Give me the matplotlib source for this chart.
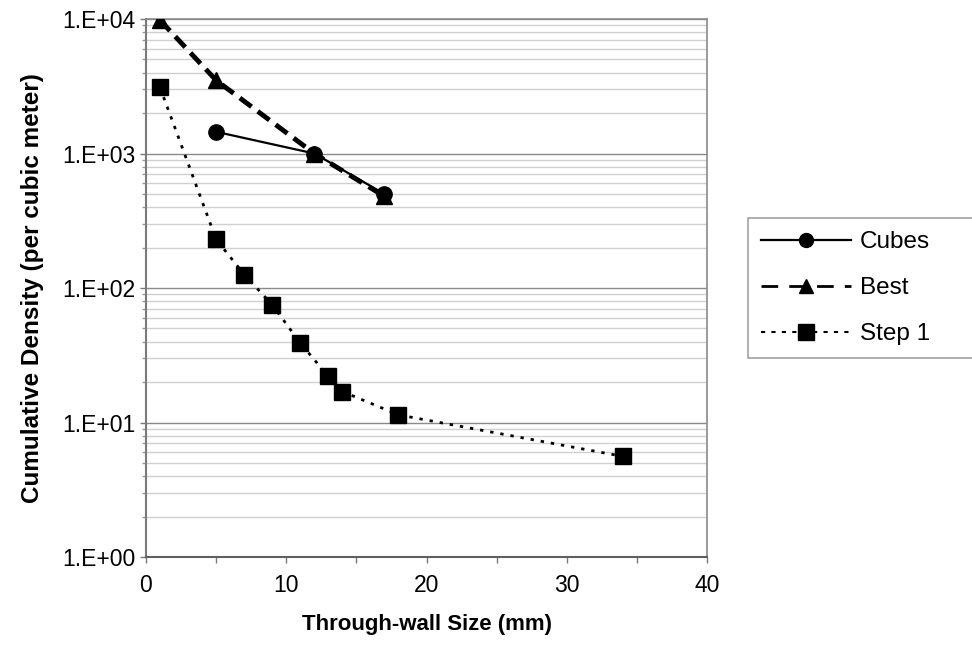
import numpy as np
import matplotlib
matplotlib.use("Agg")
import matplotlib.pyplot as plt
from matplotlib.ticker import FixedLocator, FuncFormatter, LogLocator, NullFormatter

plt.rcParams['font.family'] = ['Liberation Sans', 'DejaVu Sans']

cubes_x = [5, 12, 17]
cubes_y = [1450, 1000, 500]
best_x = [1, 5, 12, 17]
best_y = [9800, 3500, 1000, 480]
step_x = [1, 5, 7, 9, 11, 13, 14, 18, 34]
step_y = [3100, 230, 126, 75, 39, 22, 17, 11.4, 5.6]
x_ticks = [0, 10, 20, 30, 40]
x_minor = [5, 15, 25, 35]
y_ticks = [1, 10, 100, 1000, 10000]

fig = plt.figure(figsize=(9.72, 6.62), dpi=100)
ax = fig.add_axes([0.1502, 0.1586, 0.5772, 0.8127])

ax.set_yscale('log')
ax.set_xlim(0, 40)
ax.set_ylim(1, 10000)

ax.yaxis.set_major_locator(FixedLocator(y_ticks))
ax.yaxis.set_major_formatter(FuncFormatter(lambda v, p: "1.E+%02d" % int(round(np.log10(v)))))
ax.yaxis.set_minor_locator(LogLocator(base=10, subs=np.arange(2, 10)))
ax.yaxis.set_minor_formatter(NullFormatter())
ax.xaxis.set_major_locator(FixedLocator(x_ticks))
ax.xaxis.set_minor_locator(FixedLocator(x_minor))

ax.grid(True, which='major', axis='y', color='#8a8a8a', lw=1.0)
ax.grid(True, which='minor', axis='y', color='#d0d0d0', lw=1.0)
ax.set_axisbelow(True)

for s in ['top', 'right']:
    ax.spines[s].set_color('#8a8a8a')
    ax.spines[s].set_linewidth(1.2)
ax.spines['left'].set_color('#7a7a7a')
ax.spines['left'].set_linewidth(1.5)
ax.spines['bottom'].set_color('#606060')
ax.spines['bottom'].set_linewidth(1.5)

ax.tick_params(axis='both', which='major', labelsize=16.5, length=4.5, color='#7a7a7a', width=1)
ax.tick_params(axis='y', which='minor', length=3, color='#9a9a9a', width=1)
ax.tick_params(axis='x', which='minor', length=4.5, color='#7a7a7a', width=1)
ax.tick_params(axis='x', which='major', pad=8)
ax.tick_params(axis='y', which='major', pad=3)

l1, = ax.plot(cubes_x, cubes_y, color='black', lw=1.6, marker='o', ms=11, label='Cubes', zorder=4)
l2, = ax.plot(best_x, best_y, color='black', lw=3.5, ls=(0, (3, 1.6)), marker='^', ms=12, label='Best', zorder=3)
l3, = ax.plot(step_x, step_y, color='black', lw=2.0, ls=(0, (1.2, 2.5)), marker='s', ms=11, label='Step 1', zorder=3)

ax.set_xlabel('Through-wall Size (mm)', fontsize=16, fontweight='bold', labelpad=12)
ax.set_ylabel('Cumulative Density (per cubic meter)', fontsize=17.5, fontweight='bold', labelpad=13)

h1, = ax.plot([], [], color='black', lw=1.6, marker='o', ms=10)
h2, = ax.plot([], [], color='black', lw=2.0, ls=(0, (6, 4)), marker='^', ms=10)
h3, = ax.plot([], [], color='black', lw=1.5, ls=(0, (2, 3)), marker='s', ms=11)
leg = fig.legend([h1, h2, h3], ['Cubes', 'Best', 'Step 1'],
                 loc='upper left', bbox_to_anchor=(748/972, 1-360/662, 240/972, 142/662),
                 mode='expand', fontsize=17.5,
                 frameon=True, fancybox=False, handlelength=3.7, handletextpad=0.35,
                 labelspacing=0.98, borderpad=0.55, borderaxespad=0)
leg.get_frame().set_edgecolor('#8a8a8a')
leg.get_frame().set_linewidth(1.2)

fig.savefig('out.png', dpi=100)
